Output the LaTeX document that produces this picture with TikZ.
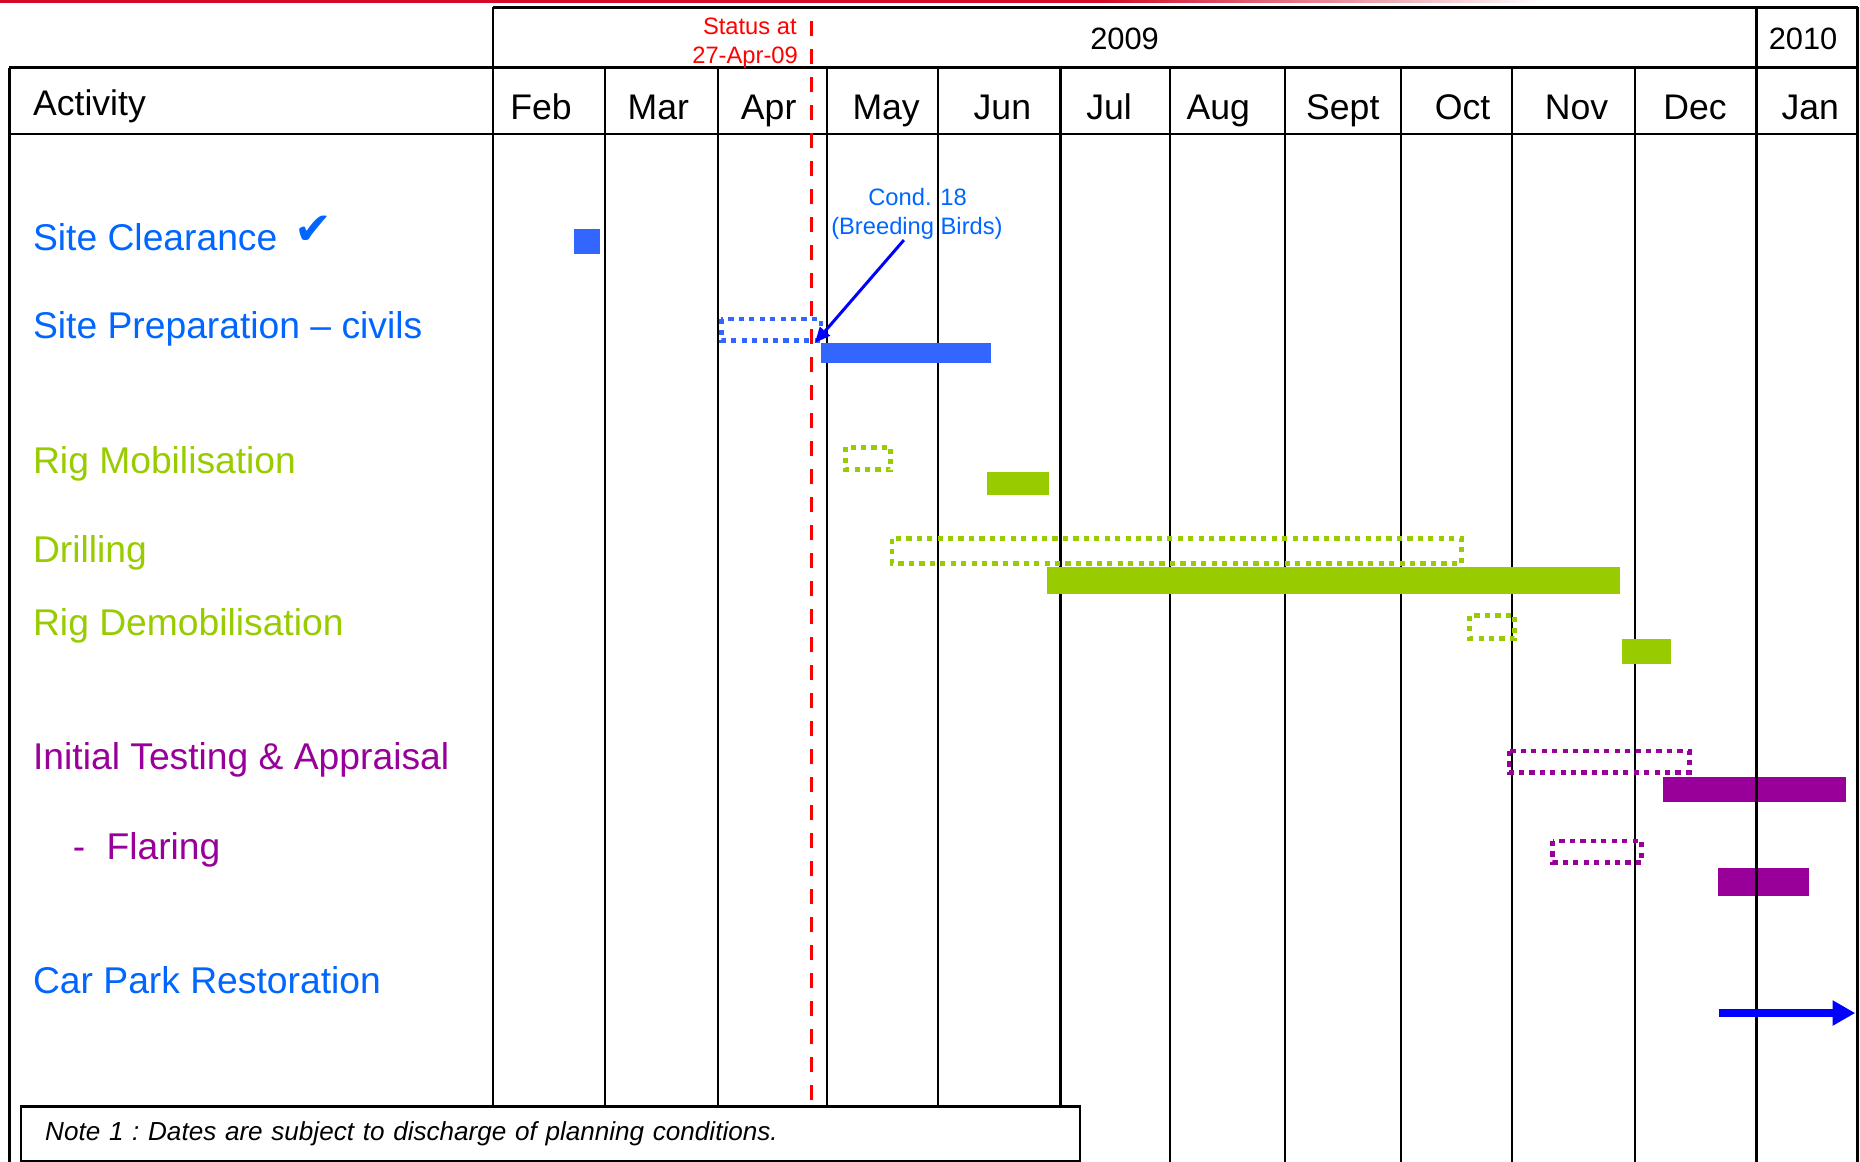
\documentclass[tikz,border=0pt]{standalone}
\usepackage{fontspec}
\setmainfont{Liberation Sans}
\newfontfamily\symfont{DejaVu Sans}
\usepackage{xcolor}
\definecolor{siteblue}{RGB}{0,102,255}
\definecolor{barblue}{RGB}{51,102,255}
\definecolor{riggreen}{RGB}{153,204,0}
\definecolor{testpurple}{RGB}{153,0,153}
\definecolor{pureblue}{RGB}{0,0,255}
\definecolor{slidered}{RGB}{210,10,40}
\usepackage{tikz}
\usetikzlibrary{
    arrows.meta,
    positioning
}

\begin{document}
\begin{tikzpicture}[
  x=0.5pt, y=-0.5pt,
  grid/.style={line width=0.85pt},
  frame/.style={line width=1.2pt},
  month/.style={anchor=base, inner sep=0pt, font=\fontsize{15}{18}\selectfont},
  year/.style={anchor=base, inner sep=0pt, font=\fontsize{13}{16}\selectfont},
  activity/.style={anchor=base west, inner sep=0pt, font=\fontsize{15.7}{18}\selectfont},
  small/.style={anchor=base, inner sep=0pt, font=\fontsize{10}{12}\selectfont},
  planned/.style={line width=2pt, dash pattern=on 2.2pt off 2.2pt},
  statusline/.style={red, line width=1.5pt, dash pattern=on 6.3pt off 5.5pt},
  arrow/.style={-{Triangle[length=6.5pt, width=5.5pt]}, line width=1.25pt, pureblue}
]

\useasboundingbox (0,0) rectangle (1568,979);
\fill[white] (0,0) rectangle (1568,979);
\fill[slidered] (0,0) rectangle (930,2.5);
\shade[left color=slidered, right color=white] (930,0) rectangle (1300,2.5);

% table
\draw[frame] (416,6) -- (1566,6);
\draw[frame] (8,57) -- (1566,57);
\draw[frame] (8,113) -- (1566,113);
\draw[frame] (8,57) -- (8,980);
\draw[grid] (416,6) -- (416,933);
\draw[grid] (510,57) -- (510,933);
\draw[grid] (605,57) -- (605,933);
\draw[grid] (697,57) -- (697,933);
\draw[grid] (791,57) -- (791,933);
\draw[grid] (894,57) -- (894,933);
\draw[grid] (986,57) -- (986,980);
\draw[grid] (1083,57) -- (1083,980);
\draw[grid] (1181,57) -- (1181,980);
\draw[grid] (1275,57) -- (1275,980);
\draw[grid] (1378,57) -- (1378,980);

% actual bars
\fill[barblue] (484,193) rectangle (506,214);
\fill[barblue] (692,289) rectangle (835,306);
\fill[riggreen] (832,398) rectangle (884,417);
\fill[riggreen] (883,478) rectangle (1366,501);
\fill[riggreen] (1367,539) rectangle (1409,560);
\fill[testpurple] (1402,655) rectangle (1556,676);
\fill[testpurple] (1448,732) rectangle (1525,755);
\coordinate (prepstart) at (687,289);

% planned bars
\draw[planned, barblue] (608,269) rectangle (692,287);
\draw[planned, riggreen] (713,377) rectangle (751,396);
\draw[planned, riggreen] (752,454) rectangle (1232,475);
\draw[planned, riggreen] (1239,519) rectangle (1277,538);
\draw[planned, testpurple] (1272,633) rectangle (1424,651);
\draw[planned, testpurple] (1309,709) rectangle (1384,727);

% year split
\draw[frame] (1481,6) -- (1481,980);
\draw[frame] (1566,6) -- (1566,980);

\node[year] (y2009) at (948,42) {2009};
\node[year] (y2010) at (1520,42) {2010};
\node[activity, font=\fontsize{15}{18}\selectfont] (act) at (27.5,97) {Activity};
\node[month] (feb)  at (456,101)  {Feb};
\node[month] (mar)  at (555,101)  {Mar};
\node[month] (apr)  at (648,101)  {Apr};
\node[month] (may)  at (747,101)  {May};
\node[month] (jun)  at (845,101)  {Jun};
\node[month] (jul)  at (935,101)  {Jul};
\node[month] (aug)  at (1027,101) {Aug};
\node[month] (sep)  at (1132,101) {Sept};
\node[month] (oct)  at (1233,101) {Oct};
\node[month] (nov)  at (1329,101) {Nov};
\node[month] (dec)  at (1429,101) {Dec};
\node[month] (jan)  at (1526,101) {Jan};

% status line
\draw[statusline] (684,18) -- (684,930);
\node[small, red, anchor=base east] (status) at (672,29.5) {Status at};
\node[small, red, anchor=base east] (statusdate) at (673,53.4) {27-Apr-09};

% activities
\node[activity, siteblue] (clear) at (27.5,211) {Site Clearance};
\node[siteblue, inner sep=0pt, font=\symfont\fontsize{19}{21}\selectfont] (tick) at (264,194) {✔};
\node[activity, siteblue] (prep) at (27.5,285) {Site Preparation – civils};
\node[activity, riggreen] (rigmob) at (27.5,399) {Rig Mobilisation};
\node[activity, riggreen] (drill) at (27.5,474) {Drilling};
\node[activity, riggreen] (rigdemob) at (27.5,536) {Rig Demobilisation};
\node[activity, testpurple] (testing) at (27.5,649) {Initial Testing \& Appraisal};
\node[activity, testpurple] (flare) at (61,724.5) {-\hspace{9pt}Flaring};
\node[activity, siteblue] (park) at (27.5,837.5) {Car Park Restoration};

% condition note
\node[small, siteblue] (cond) at (773.5,173) {Cond. 18};
\node[small, siteblue] (birds) at (773,197.8) {(Breeding Birds)};
\draw[arrow] ([xshift=-5.5pt]birds.south) -- (prepstart);

% car park
\coordinate (parkstart) at (1449,854);
\coordinate (parkend) at (1564,854);
\draw[-{Triangle[length=9.5pt, width=10pt]}, line width=3.25pt, pureblue] (parkstart) -- (parkend);

% note
\node[draw, line width=0.6pt, fill=white, anchor=north west, minimum width=446.5pt, minimum height=22.5pt,
      text width=426pt, inner xsep=10pt, align=left,
      font=\fontsize{11}{13}\selectfont\itshape\frenchspacing] (note) at (17,933)
      {Note 1 : Dates are subject to discharge of planning conditions.};
\draw[frame] (note.north west) -- (note.north east);

\end{tikzpicture}
\end{document}
